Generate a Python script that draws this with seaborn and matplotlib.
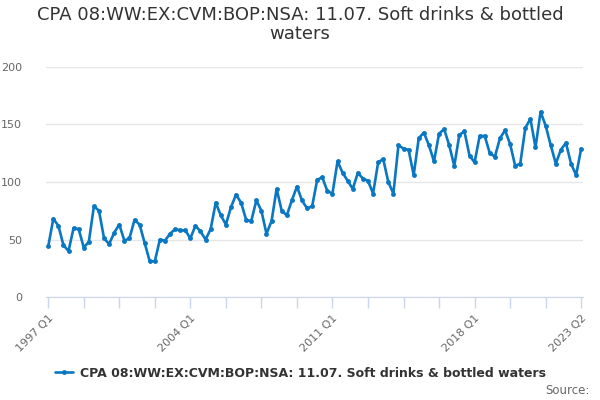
import matplotlib
matplotlib.use("Agg")
import matplotlib.pyplot as plt
import numpy as np
import pandas as pd
import seaborn as sns

# quarterly values, 1997 Q1 .. 2023 Q2
values = [
    44, 68, 62, 45,   40, 60, 59, 43,   48, 79, 75, 51,   46, 56, 63, 49,
    51, 67, 63, 47,   31, 31, 50, 49,   55, 59, 58, 58,   51, 62, 57, 50,
    59, 82, 71, 63,   78, 89, 82, 67,   66, 84, 75, 55,   66, 94, 75, 71,
    84, 96, 84, 77,   79, 102, 104, 92, 90, 118, 108, 101, 94, 108, 103, 101,
    90, 117, 120, 100, 90, 132, 129, 128, 106, 138, 143, 132, 118, 142, 146, 132,
    114, 141, 144, 123, 117, 140, 140, 125, 122, 138, 145, 133, 114, 116, 147, 155,
    130, 161, 149, 132, 116, 128, 134, 116, 106, 129,
]
quarters = [f"{1997 + i // 4} Q{i % 4 + 1}" for i in range(len(values))]
labelled = ["1997 Q1", "2004 Q1", "2011 Q1", "2018 Q1", "2023 Q2"]
series_name = "CPA 08:WW:EX:CVM:BOP:NSA: 11.07. Soft drinks & bottled waters"

df = pd.DataFrame({"idx": np.arange(len(values)), "value": values})

sns.set_style("white")
plt.rcParams["font.family"] = ["DejaVu Sans"]

fig = plt.figure(figsize=(6, 4), dpi=100)
ax = fig.add_axes([0.077, 0.2575, 0.895, 0.575])

blue = "#0a77c2"
sns.lineplot(data=df, x="idx", y="value", color=blue, linewidth=1.9,
             marker="o", markersize=3.5, markeredgewidth=0, ax=ax, label=series_name)

ax.set_xlim(-0.4, len(values) - 0.6)
ax.set_ylim(0, 200)
ax.set_yticks([0, 50, 100, 150, 200])
ax.yaxis.grid(True, color="#e6e6e6", linewidth=1)
ax.set_axisbelow(True)
ax.tick_params(axis="y", left=False, labelsize=8, labelcolor="#666666", pad=14)

ax.set_xticks(np.arange(0, len(values), 7))
ax.set_xticklabels([])
ax.tick_params(axis="x", bottom=True, length=8, color="#ccd6eb", width=1, direction="out")
for q in labelled:
    i = quarters.index(q)
    ax.text(i, -14, q, rotation=45, ha="right", va="top", rotation_mode="anchor",
            fontsize=8, color="#666666", transform=ax.transData)

for side in ["top", "right", "left"]:
    ax.spines[side].set_visible(False)
ax.spines["bottom"].set_color("#ccd6eb")
ax.set_xlabel("")
ax.set_ylabel("")

fig.suptitle("CPA 08:WW:EX:CVM:BOP:NSA: 11.07. Soft drinks & bottled\nwaters",
             y=0.985, fontsize=13, color="#333333", linespacing=1.1)

leg = ax.legend(loc="center", bbox_to_anchor=(0.5, 0.067), bbox_transform=fig.transFigure,
                frameon=False, fontsize=9, handlelength=1.5, handletextpad=0.5)
for t in leg.get_texts():
    t.set_fontweight("bold")
    t.set_color("#333333")

fig.text(0.982, 0.025, "Source:", ha="right", va="center", fontsize=8.5, color="#666666")

fig.savefig("out.png", dpi=100)
